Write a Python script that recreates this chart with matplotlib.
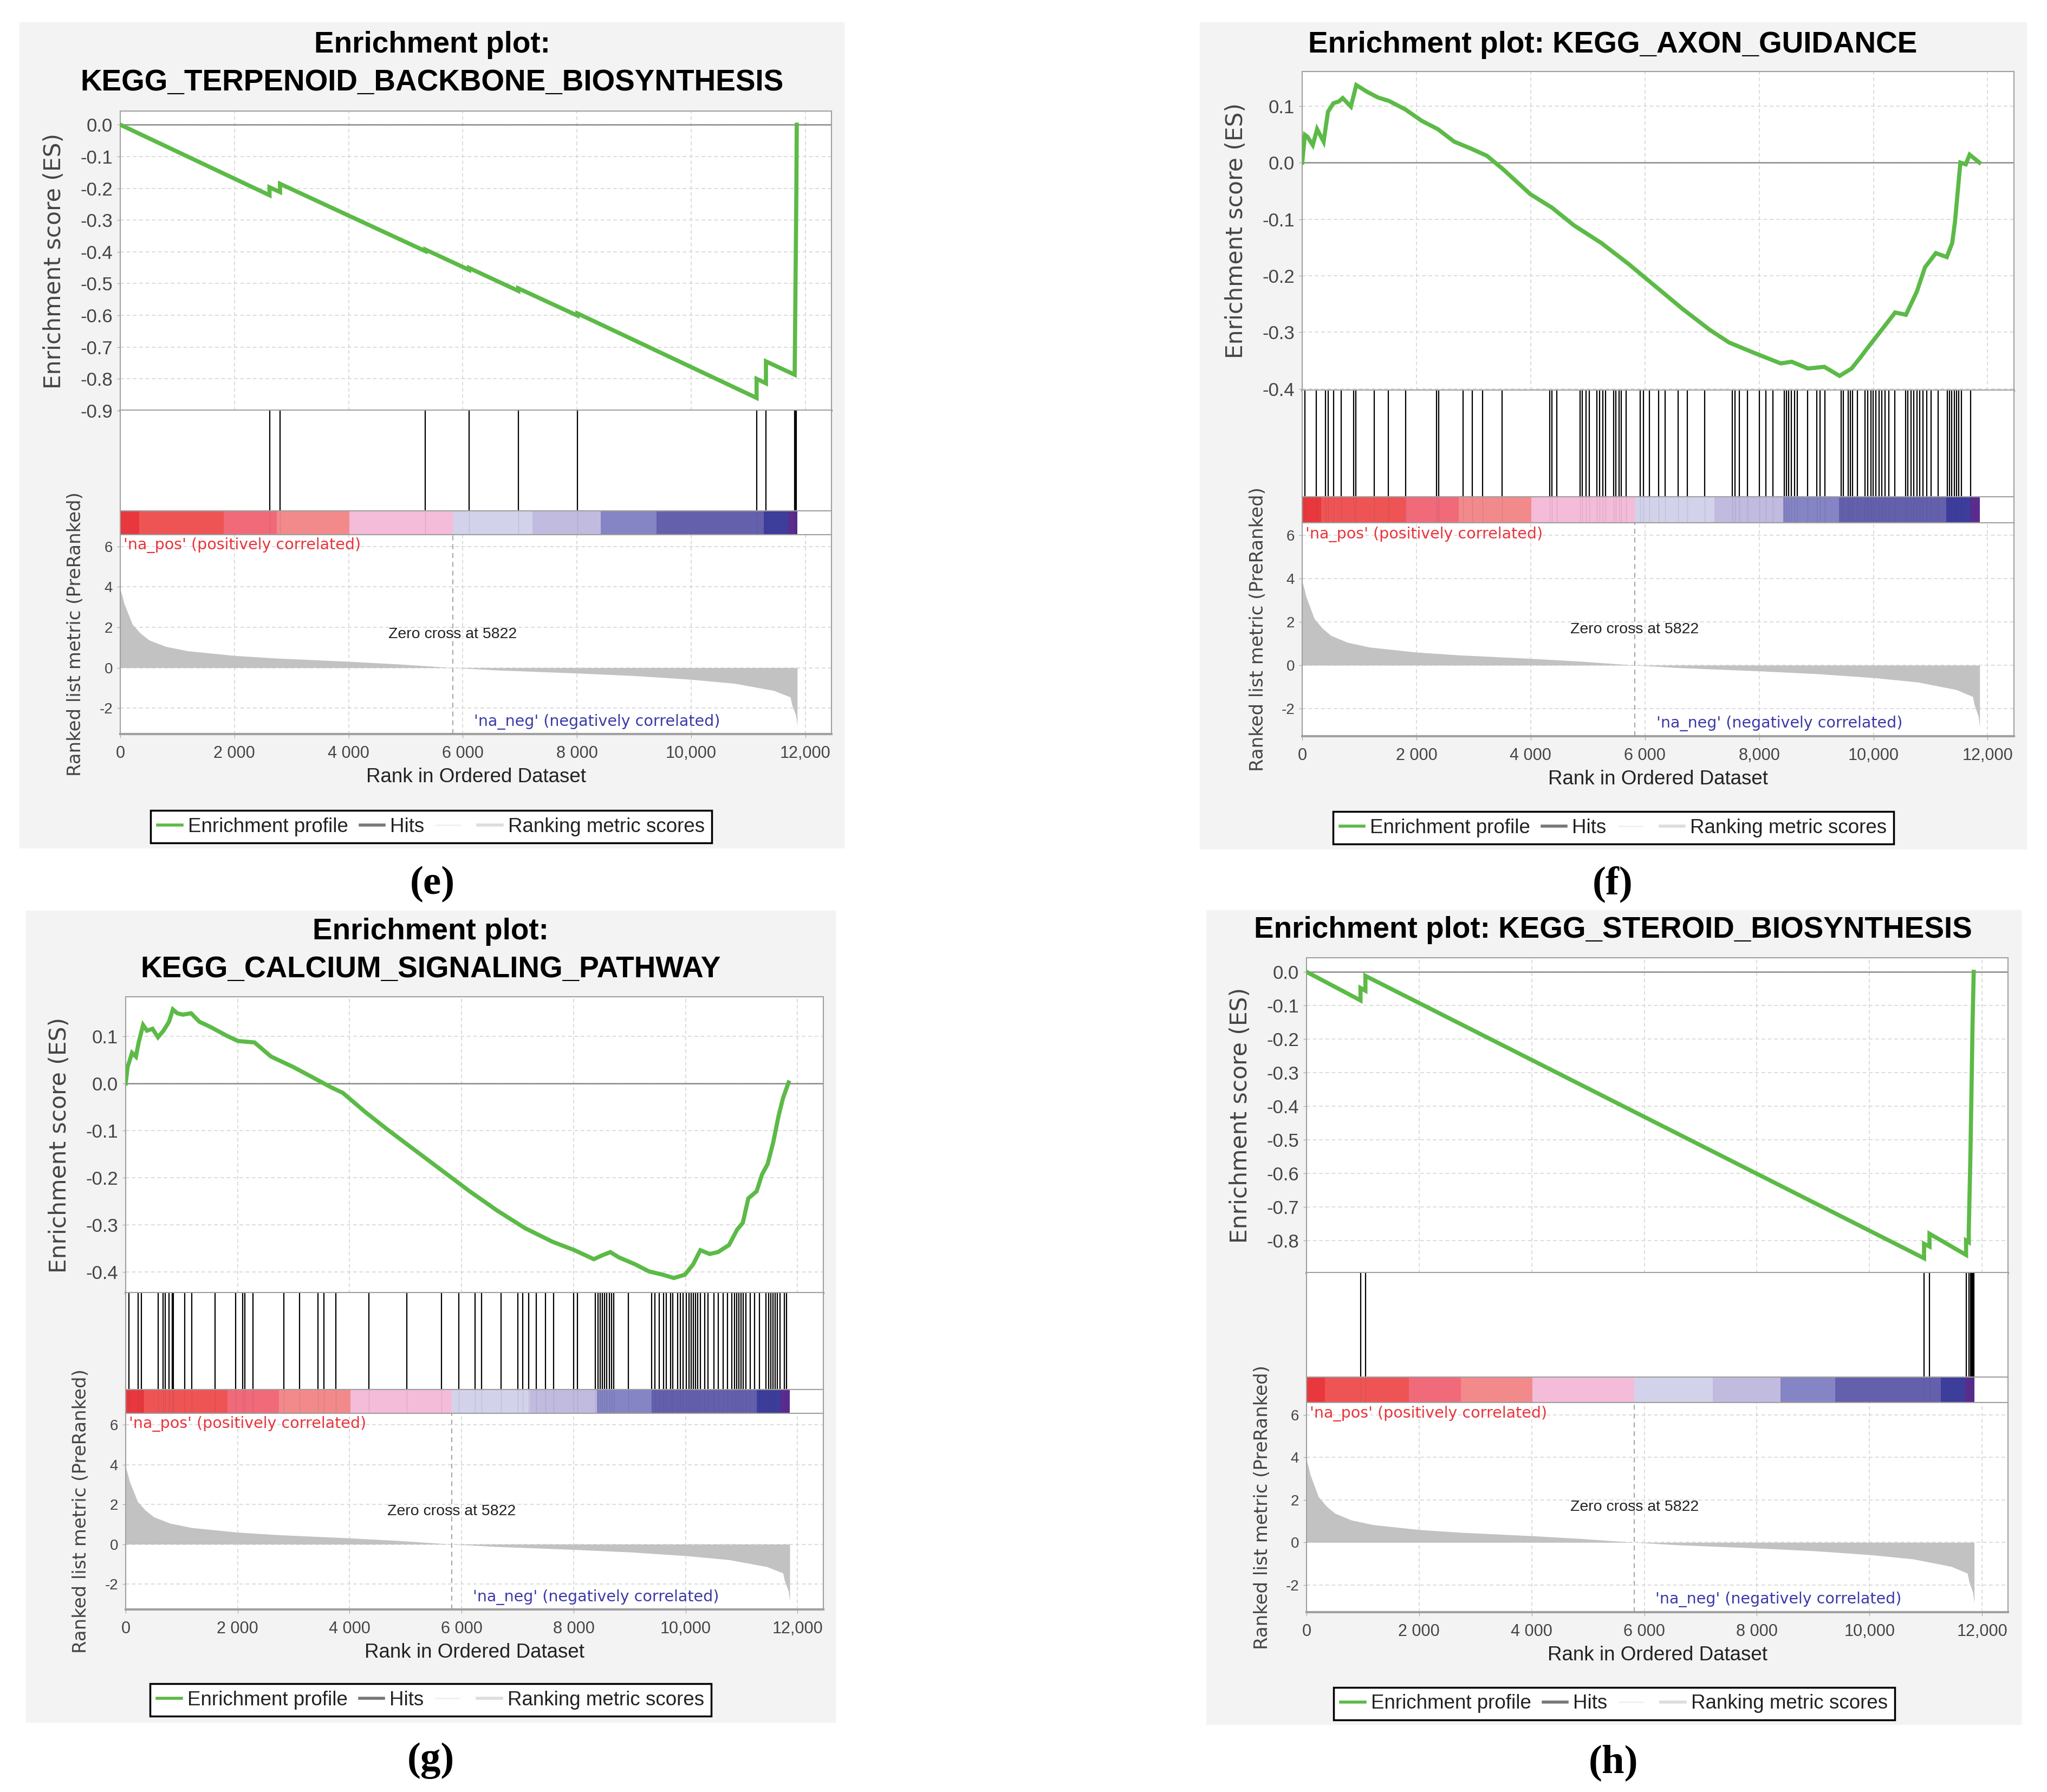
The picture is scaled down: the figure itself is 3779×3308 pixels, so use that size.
import matplotlib
matplotlib.use('Agg')
import matplotlib.pyplot as plt
from matplotlib.lines import Line2D
from matplotlib.patches import Rectangle

W, H = 3779, 3308
N_GENES = 11860
ZERO_CROSS = 5822
X_MAX = 12460

# ranked list metric (same pre-ranked list in all four plots)
metric_rank = [0, 39, 68, 213, 358, 504, 794, 1182, 1995, 2731, 3990, 4862, 5822,
               6605, 8010, 9027, 10005, 10770, 11448, 11738, 11767, 11835, 11860]
metric_value = [3.87, 3.5, 3.17, 2.14, 1.69, 1.37, 1.05, 0.83, 0.6, 0.47, 0.31, 0.18, 0.0,
                -0.12, -0.27, -0.4, -0.58, -0.78, -1.13, -1.45, -1.83, -2.35, -2.86]

# heat bar under the hits
cbar_edges = [0, 330, 1815, 2740, 4015, 5822, 7220, 8420, 9395, 11270, 11700, 11860]
cbar_colors = ['#e8383d', '#ef5454', '#f06a7a', '#f28a8c', '#f4bcd8', '#d2d3ea',
               '#c1bbdf', '#8584c4', '#6560ac', '#3d3d9c', '#592c8e']

x_ticks = [0, 2000, 4000, 6000, 8000, 10000, 12000]
x_labels_space = ['0', '2 000', '4 000', '6 000', '8 000', '10,000', '12,000']
x_labels_comma = ['0', '2 000', '4 000', '6 000', '8,000', '10,000', '12,000']

# (e) KEGG_TERPENOID_BACKBONE_BIOSYNTHESIS
e_title = ['Enrichment plot:', 'KEGG_TERPENOID_BACKBONE_BIOSYNTHESIS']
e_es_rank = [0, 2615, 2615, 2799, 2799, 5346, 5346, 6111, 6111, 6973, 6973, 8010, 8010,
             11148, 11148, 11312, 11312, 11815, 11822, 11830, 11838, 11845, 11852]
e_es_value = [0.0, -0.222, -0.197, -0.212, -0.186, -0.398, -0.393, -0.457, -0.451, -0.523,
              -0.515, -0.601, -0.594, -0.86, -0.80, -0.814, -0.745, -0.787, -0.66, -0.5,
              -0.35, -0.2, 0.0]
e_hits = [2615, 2799, 5346, 6111, 6973, 8010, 11148, 11312, 11815, 11822, 11830, 11838, 11845]
e_yticks = [0.0, -0.1, -0.2, -0.3, -0.4, -0.5, -0.6, -0.7, -0.8, -0.9]
e_ylabels = ['0.0', '-0.1', '-0.2', '-0.3', '-0.4', '-0.5', '-0.6', '-0.7', '-0.8', '-0.9']

# (f) KEGG_AXON_GUIDANCE
f_title = ['Enrichment plot: KEGG_AXON_GUIDANCE']
f_es_rank = [0, 48, 90, 185, 261, 375, 452, 547, 642, 709, 852, 947, 1138, 1328, 1519, 1805,
             2090, 2376, 2662, 2948, 3234, 3519, 3996, 4377, 4758, 5234, 5711, 6187, 6663,
             7140, 7473, 7902, 8378, 8569, 8855, 9140, 9407, 9617, 9760, 9902, 10188, 10379,
             10569, 10760, 10903, 11093, 11284, 11379, 11427, 11522, 11617, 11684, 11855]
f_es_value = [0.0, 0.049, 0.046, 0.031, 0.059, 0.037, 0.09, 0.105, 0.108, 0.114, 0.099, 0.137,
              0.125, 0.115, 0.109, 0.094, 0.074, 0.059, 0.037, 0.025, 0.012, -0.012, -0.056,
              -0.08, -0.111, -0.142, -0.179, -0.219, -0.259, -0.296, -0.318, -0.336, -0.355,
              -0.352, -0.364, -0.361, -0.377, -0.364, -0.346, -0.327, -0.29, -0.265, -0.269,
              -0.228, -0.185, -0.16, -0.167, -0.142, -0.105, 0.0, -0.003, 0.014, 0.0]
f_hits = [48, 250, 412, 452, 549, 679, 897, 938, 1261, 1504, 1811, 2353, 2394, 2815, 2976,
          3162, 3502, 4336, 4376, 4457, 4861, 4902, 4967, 5023, 5161, 5209, 5266, 5306, 5452,
          5492, 5549, 5589, 5670, 5913, 5970, 6075, 6237, 6358, 6585, 6746, 7046, 7531, 7572,
          7652, 7798, 8000, 8114, 8243, 8437, 8478, 8518, 8559, 8623, 8664, 8850, 9012, 9068,
          9149, 9432, 9473, 9554, 9594, 9635, 9715, 9853, 9901, 9958, 9999, 10039, 10096,
          10144, 10201, 10265, 10371, 10565, 10605, 10662, 10710, 10759, 10808, 10864, 10937,
          11010, 11131, 11293, 11333, 11374, 11414, 11455, 11495, 11536, 11697]
f_yticks = [0.1, 0.0, -0.1, -0.2, -0.3, -0.4]
f_ylabels = ['0.1', '0.0', '-0.1', '-0.2', '-0.3', '-0.4']

# (g) KEGG_CALCIUM_SIGNALING_PATHWAY
g_title = ['Enrichment plot:', 'KEGG_CALCIUM_SIGNALING_PATHWAY']
g_es_rank = [0, 35, 114, 183, 232, 311, 380, 479, 577, 676, 774, 843, 922, 1020, 1168, 1316,
             1513, 1809, 2006, 2301, 2597, 2991, 3385, 3681, 3878, 4272, 4666, 5158, 5651,
             6144, 6637, 7129, 7622, 8016, 8361, 8509, 8656, 8804, 9100, 9346, 9593, 9790,
             9987, 10135, 10263, 10430, 10578, 10775, 10922, 11021, 11120, 11268, 11366,
             11465, 11563, 11662, 11740, 11839]
g_es_value = [0.0, 0.035, 0.065, 0.057, 0.087, 0.124, 0.112, 0.116, 0.098, 0.112, 0.131, 0.157,
              0.149, 0.146, 0.149, 0.131, 0.12, 0.101, 0.09, 0.087, 0.057, 0.035, 0.01, -0.009,
              -0.02, -0.06, -0.097, -0.141, -0.185, -0.229, -0.27, -0.307, -0.336, -0.354,
              -0.373, -0.365, -0.358, -0.369, -0.384, -0.399, -0.406, -0.413, -0.406, -0.384,
              -0.354, -0.362, -0.358, -0.343, -0.31, -0.296, -0.244, -0.229, -0.193, -0.171,
              -0.126, -0.068, -0.031, 0.002]
g_hits = [57, 219, 284, 585, 666, 707, 772, 829, 853, 1057, 1179, 1601, 1967, 2089, 2130, 2276,
          2821, 3105, 3431, 3536, 3756, 4341, 5016, 5642, 5951, 6235, 6357, 6707, 7008, 7089,
          7195, 7333, 7496, 7642, 8000, 8065, 8390, 8431, 8471, 8512, 8552, 8593, 8634, 8674,
          8715, 8975, 9390, 9447, 9528, 9609, 9650, 9731, 9772, 9853, 9910, 9959, 10016, 10057,
          10097, 10138, 10178, 10219, 10260, 10341, 10398, 10504, 10585, 10666, 10748, 10829,
          10870, 10910, 10951, 10992, 11032, 11073, 11154, 11235, 11317, 11439, 11479, 11520,
          11561, 11601, 11642, 11683, 11764, 11805]
g_yticks = [0.1, 0.0, -0.1, -0.2, -0.3, -0.4]
g_ylabels = ['0.1', '0.0', '-0.1', '-0.2', '-0.3', '-0.4']

# (h) KEGG_STEROID_BIOSYNTHESIS
h_title = ['Enrichment plot: KEGG_STEROID_BIOSYNTHESIS']
h_es_rank = [0, 959, 959, 1046, 1046, 10969, 10969, 11066, 11066, 11715, 11715, 11763, 11763,
             11792, 11812, 11831, 11851]
h_es_value = [0.0, -0.085, -0.048, -0.056, -0.012, -0.853, -0.81, -0.818, -0.78, -0.843, -0.80,
              -0.805, -0.77, -0.55, -0.35, -0.15, 0.0]
h_hits = [959, 1046, 10969, 11066, 11715, 11763, 11792, 11812, 11831, 11851]
h_yticks = [0.0, -0.1, -0.2, -0.3, -0.4, -0.5, -0.6, -0.7, -0.8]
h_ylabels = ['0.0', '-0.1', '-0.2', '-0.3', '-0.4', '-0.5', '-0.6', '-0.7', '-0.8']

plt.rcParams['font.family'] = ['Liberation Sans', 'DejaVu Sans']

fig = plt.figure(figsize=(W / 100, H / 100), dpi=100)
fig.patch.set_facecolor('white')

GREEN = '#5cba47'
GRID = '#d6d6d6'
SPINE = '#a0a0a0'
TXT = '#444444'


def rect(l, t, r, b):
    return [l / W, 1 - b / H, (r - l) / W, (b - t) / H]


def style_spines(ax):
    for s in ax.spines.values():
        s.set_color(SPINE)
        s.set_linewidth(1.5)


def draw_panel(g, title, es_rank, es_value, hits, ylim, yticks, ylabels, xlabels, label):
    bl, bt, br, bb = g['bg']
    fig.patches.append(Rectangle((bl / W, 1 - bb / H), (br - bl) / W, (bb - bt) / H,
                                 transform=fig.transFigure, color='#f3f3f3', zorder=-5))
    for ty, line in zip(g['title_y'], title):
        fig.text(g['cx'] / W, 1 - ty / H, line, ha='center', va='center',
                 fontsize=39.5, fontweight='bold', color='black')

    l, r = g['ax_l'], g['ax_r']
    # enrichment score
    ax = fig.add_axes(rect(l, g['es_t'], r, g['hits_t']))
    ax.plot(es_rank, es_value, color=GREEN, lw=5.5, solid_joinstyle='miter', zorder=3)
    ax.axhline(0, color='#8c8c8c', lw=1.8, zorder=2)
    ax.set_xlim(0, X_MAX)
    ax.set_ylim(*ylim)
    ax.set_xticks(x_ticks)
    ax.set_yticks(yticks)
    ax.set_yticklabels(ylabels)
    ax.tick_params(axis='x', length=0, labelbottom=False)
    ax.tick_params(axis='y', labelsize=25, colors=TXT, length=4, pad=6, color=SPINE)
    ax.grid(True, color=GRID, ls=(0, (4, 3)), lw=1.2)
    style_spines(ax)
    ax.spines['bottom'].set_linewidth(3)
    fig.text((l - 122) / W, 1 - (g['es_t'] + g['hits_t']) / 2 / H, 'Enrichment score (ES)',
             rotation=90, ha='center', va='center', fontsize=30.5, color=TXT,
             family='DejaVu Sans')

    # hits
    axh = fig.add_axes(rect(l, g['hits_t'], r, g['cbar_t']))
    axh.vlines(hits, 0, 1, color='black', lw=1.6)
    axh.set_xlim(0, X_MAX)
    axh.set_ylim(0, 1)
    axh.set_xticks([])
    axh.set_yticks([])
    style_spines(axh)
    axh.spines['top'].set_visible(False)

    # heat bar
    axc = fig.add_axes(rect(l, g['cbar_t'], r, g['rank_t']))
    lefts = cbar_edges[:-1]
    widths = [b - a for a, b in zip(cbar_edges[:-1], cbar_edges[1:])]
    axc.bar(lefts, [1] * len(lefts), width=widths, align='edge', color=cbar_colors, lw=0)
    axc.vlines(hits, 0, 1, color='#303060', lw=1.0, alpha=0.12)
    axc.set_xlim(0, X_MAX)
    axc.set_ylim(0, 1)
    axc.set_xticks([])
    axc.set_yticks([])
    style_spines(axc)

    # ranked list metric
    axr = fig.add_axes(rect(l, g['rank_t'], r, g['rank_b']))
    axr.fill_between(metric_rank, metric_value, 0, color='#c2c2c2', lw=0, zorder=2)
    axr.axvline(ZERO_CROSS, color='#9a9a9a', ls=(0, (5, 4)), lw=1.3, zorder=3)
    axr.set_xlim(0, X_MAX)
    axr.set_ylim(-3.28, 6.58)
    axr.set_xticks(x_ticks)
    axr.set_xticklabels(xlabels)
    axr.set_yticks([6, 4, 2, 0, -2])
    axr.set_yticklabels(['6', '4', '2', '0', '-2'])
    axr.tick_params(axis='x', labelsize=22, colors=TXT, length=5, pad=10, color=SPINE)
    axr.tick_params(axis='y', labelsize=20, colors=TXT, length=4, pad=6, color=SPINE)
    axr.grid(True, color=GRID, ls=(0, (4, 3)), lw=1.2, zorder=1)
    style_spines(axr)
    axr.spines['bottom'].set_linewidth(3)
    axr.text(60, 6.05, "'na_pos' (positively correlated)", color='#e8343c', fontsize=20.5,
             family='DejaVu Sans', ha='left', va='center')
    axr.text(6200, -2.68, "'na_neg' (negatively correlated)", color='#3a3aa8', fontsize=20.5,
             family='DejaVu Sans', ha='left', va='center')
    axr.text(ZERO_CROSS, 1.66, 'Zero cross at 5822', color='#222222', fontsize=20.5,
             ha='center', va='center')
    axr.set_xlabel('Rank in Ordered Dataset', fontsize=26.5, color='#222222', labelpad=8)
    fig.text((l - 82) / W, 1 - (g['rank_t'] + g['rank_b']) / 2 / H,
             'Ranked list metric (PreRanked)', rotation=90, ha='center', va='center',
             fontsize=24.5, color=TXT, family='DejaVu Sans')

    # legend
    ll, lt, lr, lb = g['legend']
    handles = [Line2D([], [], color=GREEN, lw=4),
               Line2D([], [], color='#777777', lw=4),
               Line2D([], [], color='#f0f0f0', lw=2),
               Line2D([], [], color='#dddddd', lw=4)]
    labels = ['Enrichment profile', 'Hits', '', 'Ranking metric scores']
    leg = fig.legend(handles, labels, loc='center',
                     bbox_to_anchor=((ll + lr) / 2 / W, 1 - (lt + lb) / 2 / H),
                     ncol=4, fontsize=26.5, frameon=True, fancybox=False,
                     edgecolor='black', framealpha=1, handlelength=1.2,
                     handletextpad=0.3, columnspacing=0.6, borderpad=0.35,
                     borderaxespad=0)
    leg.get_frame().set_linewidth(2.5)
    for t in leg.get_texts():
        t.set_color('#222222')

    fig.text(g['lx'] / W, 1 - g['ly'] / H, label, ha='center', va='center',
             fontsize=54, fontweight='bold', family='Liberation Serif', color='black')


geom_e = dict(bg=(36, 41, 1558, 1565), cx=798, title_y=[83, 153], ax_l=222, ax_r=1535,
              es_t=205, hits_t=758, cbar_t=943, rank_t=987, rank_b=1355,
              legend=(273, 1491, 1319, 1561), lx=798, ly=1632)
geom_f = dict(bg=(2215, 41, 3741, 1567), cx=2977, title_y=[83], ax_l=2404, ax_r=3718,
              es_t=132, hits_t=721, cbar_t=917, rank_t=965, rank_b=1359,
              legend=(2455, 1493, 3502, 1563), lx=2977, ly=1632)
geom_g = dict(bg=(48, 1681, 1542, 3179), cx=795, title_y=[1720, 1790], ax_l=232, ax_r=1520,
              es_t=1840, hits_t=2387, cbar_t=2565, rank_t=2609, rank_b=2971,
              legend=(282, 3103, 1308, 3173), lx=795, ly=3250)
geom_h = dict(bg=(2227, 1680, 3731, 3183), cx=2978, title_y=[1717], ax_l=2412, ax_r=3707,
              es_t=1768, hits_t=2350, cbar_t=2542, rank_t=2589, rank_b=2976,
              legend=(2463, 3111, 3497, 3179), lx=2978, ly=3254)

draw_panel(geom_e, e_title, e_es_rank, e_es_value, e_hits, (-0.9, 0.043),
           e_yticks, e_ylabels, x_labels_space, '(e)')
draw_panel(geom_f, f_title, f_es_rank, f_es_value, f_hits, (-0.403, 0.161),
           f_yticks, f_ylabels, x_labels_comma, '(f)')
draw_panel(geom_g, g_title, g_es_rank, g_es_value, g_hits, (-0.445, 0.184),
           g_yticks, g_ylabels, x_labels_space, '(g)')
draw_panel(geom_h, h_title, h_es_rank, h_es_value, h_hits, (-0.897, 0.042),
           h_yticks, h_ylabels, x_labels_space, '(h)')

fig.savefig('out.png', dpi=100, facecolor='white')
